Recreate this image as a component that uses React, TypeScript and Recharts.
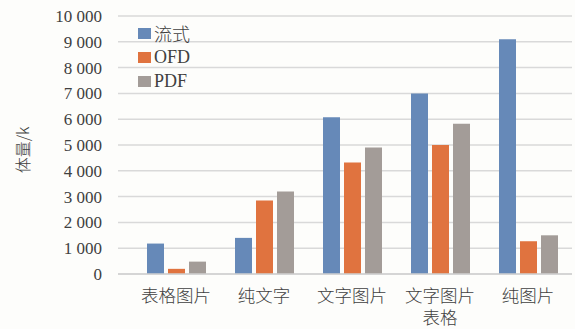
import { Bar, BarChart, CartesianGrid, Legend, XAxis, YAxis } from 'recharts';

const categories = ['表格图片', '纯文字', '文字图片', '文字图片\n表格', '纯图片'];
const liushi = [1180, 1400, 6080, 7000, 9100];
const ofd = [200, 2850, 4320, 5000, 1270];
const pdf = [480, 3200, 4900, 5820, 1500];
const yTicks = [0, 1000, 2000, 3000, 4000, 5000, 6000, 7000, 8000, 9000, 10000];

const series = [
  { key: 'liushi', label: '流式', color: '#6689b8' },
  { key: 'ofd', label: 'OFD', color: '#e0733f' },
  { key: 'pdf', label: 'PDF', color: '#a39c98' },
];

const data = categories.map((name, i) => ({
  name,
  liushi: liushi[i],
  ofd: ofd[i],
  pdf: pdf[i],
}));

const textColor = '#404040';
const serif = 'Liberation Serif';
const cjk = 'Noto Sans CJK SC';

const fmt = (v: number) => (v >= 1000 ? `${Math.floor(v / 1000)} ${String(v % 1000).padStart(3, '0')}` : String(v));

function CategoryTick({ x, y, payload }: any) {
  const lines = String(payload.value).split('\n');
  return (
    <g>
      {lines.map((line, i) => (
        <text
          key={i}
          x={x}
          y={y + 26 + i * 22}
          textAnchor="middle"
          fill={textColor}
          fontSize={17.5}
          fontFamily={cjk}
          fontWeight={300}
        >
          {line}
        </text>
      ))}
    </g>
  );
}

function ValueTick({ x, y, payload }: any) {
  return (
    <text x={x} y={y + 6} textAnchor="end" fill={textColor} fontSize={17} fontFamily={serif}>
      {fmt(payload.value)}
    </text>
  );
}

function LegendBox() {
  return (
    <div style={{ fontSize: 18, color: textColor, lineHeight: '24px' }}>
      {series.map((s) => (
        <div key={s.key} style={{ display: 'flex', alignItems: 'center', height: 24 }}>
          <span style={{ width: 13, height: 11, background: s.color, marginRight: 3, display: 'inline-block' }} />
          <span
            style={{
              fontFamily: s.key === 'liushi' ? cjk : serif,
              fontWeight: s.key === 'liushi' ? 300 : 400,
            }}
          >
            {s.label}
          </span>
        </div>
      ))}
    </div>
  );
}

export default function App() {
  return (
    <div
      style={{
        position: 'absolute',
        left: 0,
        top: 0,
        width: 575,
        height: 329,
        background: '#fdfdfb',
        fontFamily: serif,
      }}
    >
      <BarChart
        width={575}
        height={329}
        data={data}
        margin={{ top: 16, right: 3, left: 0, bottom: 0 }}
        barSize={17}
        barGap={4}
      >
        <CartesianGrid stroke="#d9d9d9" strokeWidth={1.5} vertical={false} />
        <XAxis
          dataKey="name"
          interval={0}
          height={55}
          axisLine={{ stroke: '#d0d0d0', strokeWidth: 1.5 }}
          tickLine={false}
          tickSize={0}
          tick={<CategoryTick />}
          padding={{ left: 14, right: 0 }}
        />
        <YAxis
          width={118}
          domain={[0, 10000]}
          ticks={yTicks}
          interval={0}
          axisLine={false}
          tickLine={false}
          tickSize={0}
          tickMargin={16}
          tick={<ValueTick />}
          label={{
            content: () => (
              <text
                x={22}
                y={150}
                transform="rotate(-90 22 150)"
                textAnchor="middle"
                dominantBaseline="central"
                fill={textColor}
                fontSize={16}
                fontFamily={cjk}
                fontWeight={300}
              >
                体量/k
              </text>
            ),
          }}
        />
        <Legend
          layout="vertical"
          align="center"
          verticalAlign="middle"
          wrapperStyle={{ left: 138, top: 21, width: 'auto' }}
          content={() => <LegendBox />}
        />
        {series.map((s) => (
          <Bar key={s.key} dataKey={s.key} name={s.label} fill={s.color} isAnimationActive={false} />
        ))}
      </BarChart>
    </div>
  );
}
